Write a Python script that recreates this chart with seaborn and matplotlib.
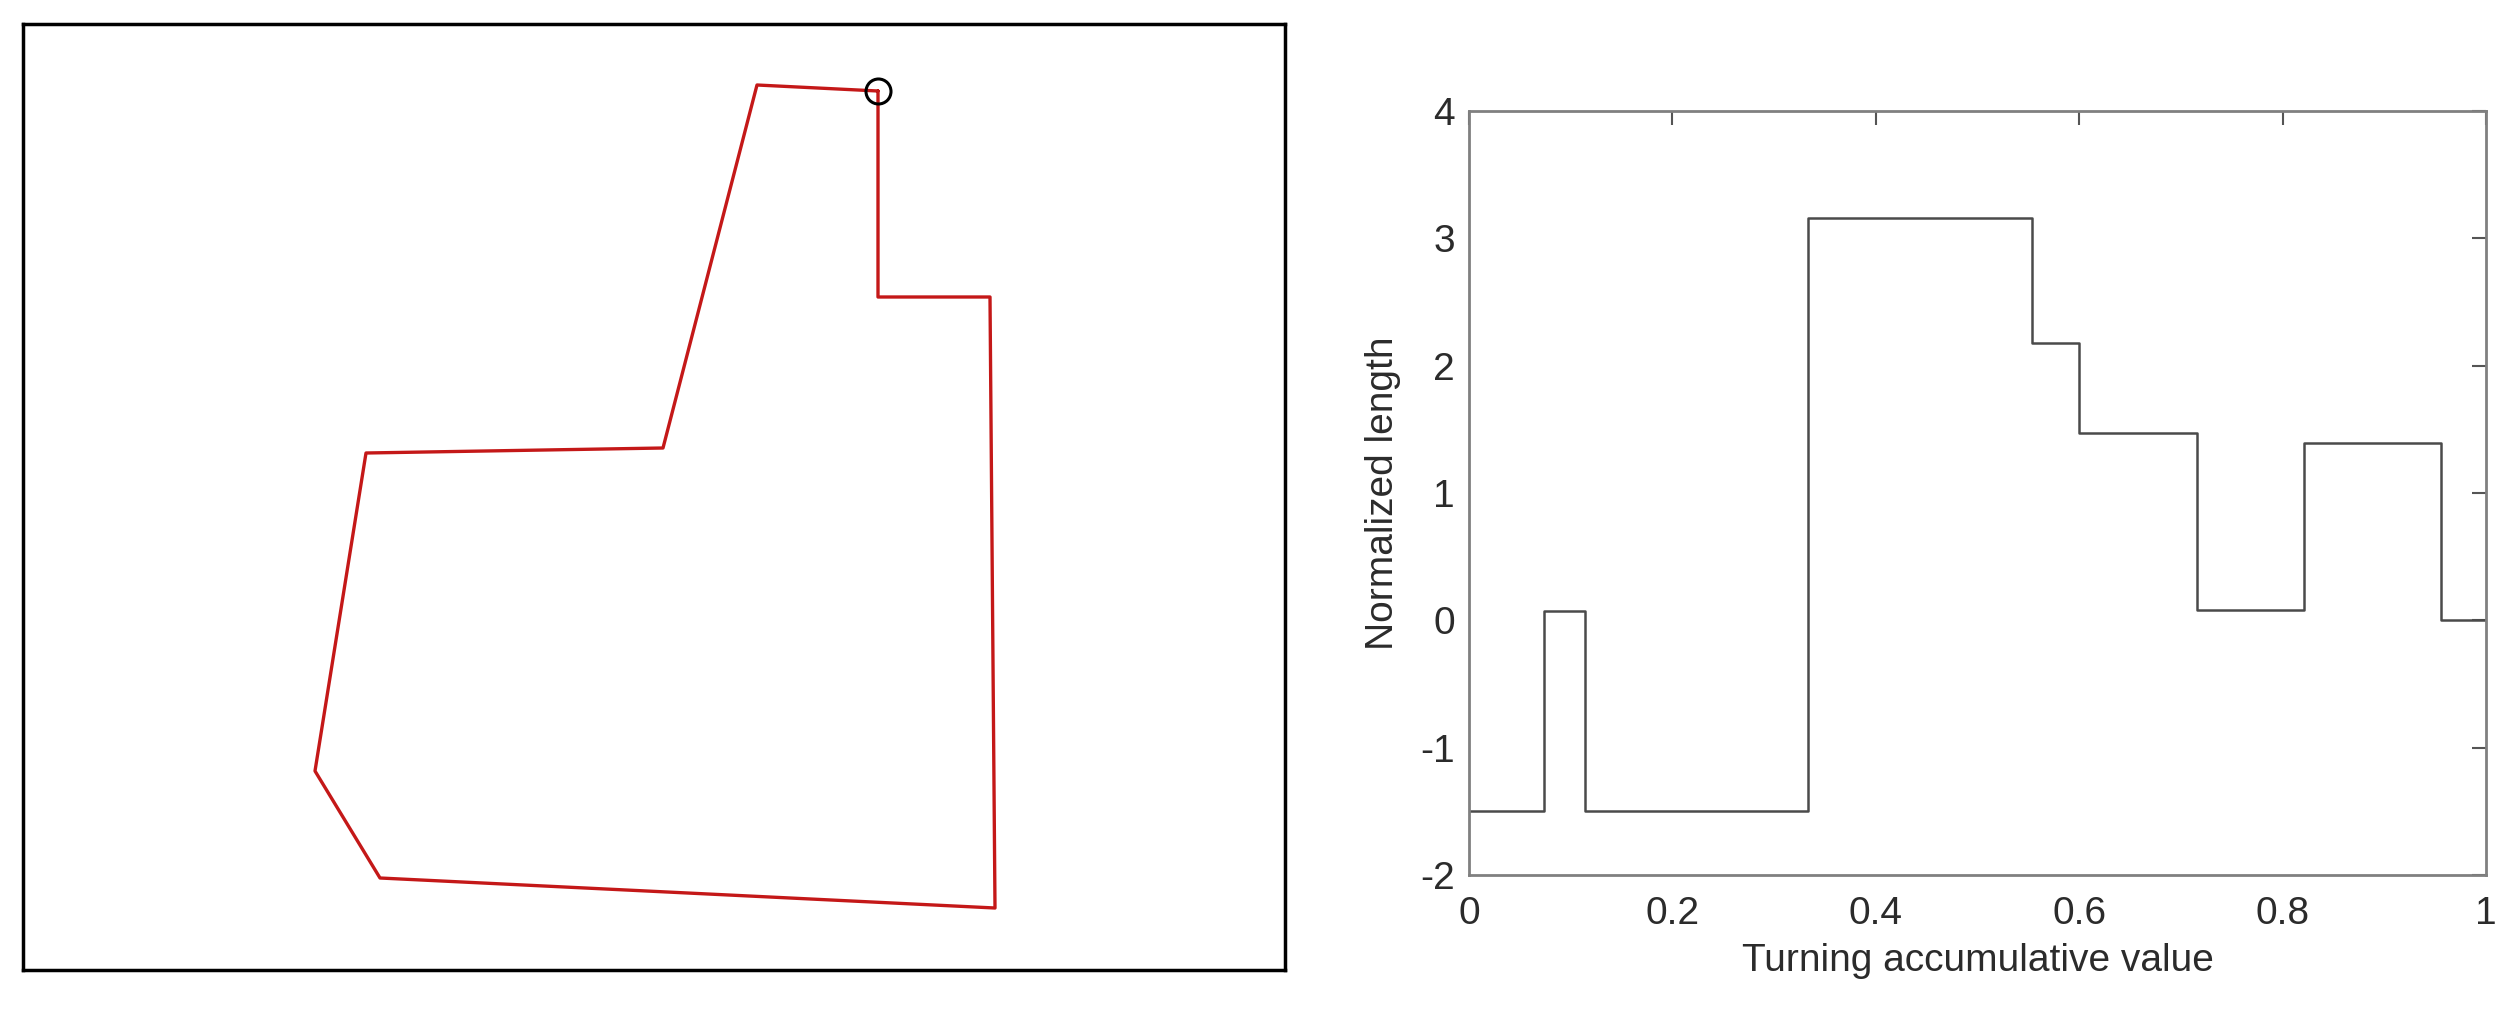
import numpy as np
import pandas as pd
import matplotlib
matplotlib.use("Agg")
import matplotlib.pyplot as plt
import seaborn as sns

# polygon outline (left panel), in panel units, closed back to the start point
shape_x = [855, 855, 967, 972, 357, 292, 343, 640, 734, 855]
shape_y = [879, 673, 673, 62, 92, 199, 517, 522, 885, 879]

# turning function (right panel)
turn_edges = [0, 0.074, 0.114, 0.333, 0.554, 0.600, 0.716, 0.821, 0.956, 1.0]
turn_values = [-1.5, 0.075, -1.5, 3.16, 2.18, 1.475, 0.08, 1.39, 0.0]

x_ticks = [0, 0.2, 0.4, 0.6, 0.8, 1]
x_tick_labels = ["0", "0.2", "0.4", "0.6", "0.8", "1"]
y_ticks = [-2, -1, 0, 1, 2, 3, 4]

sns.set_style("white")
plt.rcParams["font.family"] = ["Liberation Sans", "DejaVu Sans"]
plt.rcParams["axes.unicode_minus"] = False

fig = plt.figure(figsize=(25.2, 10.24), dpi=100)

# left panel: shape outline
ax1 = fig.add_axes([23 / 2520, 1 - 970 / 1024, 1262 / 2520, 946 / 1024])
shape_df = pd.DataFrame({"x": shape_x, "y": shape_y})
sns.lineplot(data=shape_df, x="x", y="y", sort=False, estimator=None,
             color="#c41818", linewidth=2.4, ax=ax1)
ax1.plot(shape_x[0], shape_y[0], marker="o", markersize=18,
         markerfacecolor="none", markeredgecolor="black", markeredgewidth=2.2)
ax1.set_xlim(0, 1262)
ax1.set_ylim(0, 946)
ax1.set_xticks([])
ax1.set_yticks([])
ax1.set_xlabel("")
ax1.set_ylabel("")
for s in ax1.spines.values():
    s.set_visible(True)
    s.set_color("black")
    s.set_linewidth(2.5)

# right panel: turning function step plot
ax2 = fig.add_axes([1469 / 2520, 1 - 875 / 1024, 1017 / 2520, 764 / 1024])
step_df = pd.DataFrame({"x": turn_edges, "y": turn_values + [turn_values[-1]]})
sns.lineplot(data=step_df, x="x", y="y", sort=False, estimator=None,
             drawstyle="steps-post", color="#4a4a4a", linewidth=1.8, ax=ax2)
ax2.set_xlim(0, 1)
ax2.set_ylim(-2, 4)
ax2.set_xticks(x_ticks)
ax2.set_xticklabels(x_tick_labels)
ax2.set_yticks(y_ticks)
ax2.set_yticklabels([str(v) for v in y_ticks])
ax2.tick_params(direction="in", top=True, right=True, length=10, width=1.5,
                color="#555555", labelsize=28, labelcolor="#2b2b2b")
ax2.tick_params(axis="x", pad=15)
ax2.tick_params(axis="y", pad=10)
for s in ax2.spines.values():
    s.set_visible(True)
    s.set_color("#808080")
    s.set_linewidth(2)
ax2.set_xlabel("Turning accumulative value", fontsize=28, color="#2b2b2b", labelpad=8)
ax2.set_ylabel("Normalized length", fontsize=28, color="#2b2b2b", labelpad=14)

fig.savefig("out.png", dpi=100)
